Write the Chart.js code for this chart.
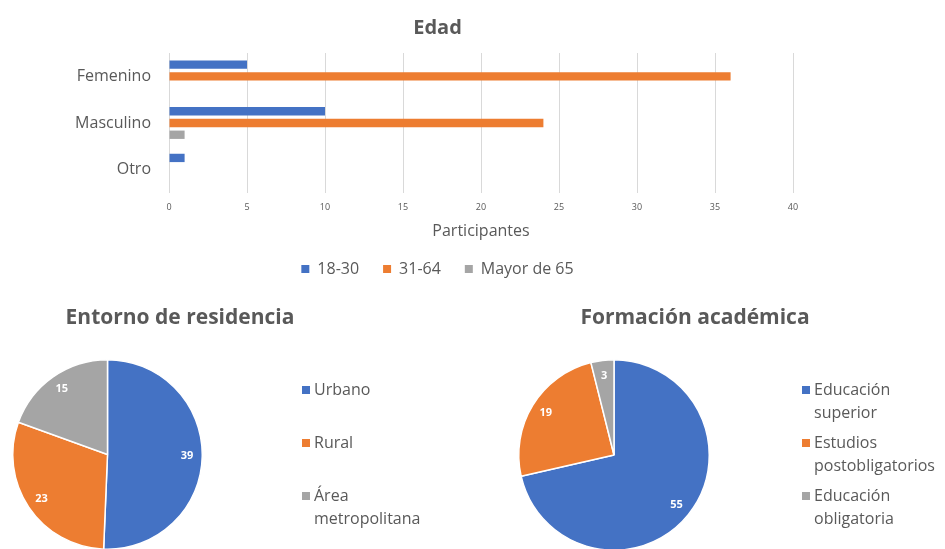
<!DOCTYPE html>
<html lang="es">
<head>
<meta charset="UTF-8">
<title>Participantes</title>
<script src="https://cdn.jsdelivr.net/npm/chart.js@4.4.1/dist/chart.umd.min.js"></script>
<style>
  html, body { margin: 0; padding: 0; background: #fff; overflow: hidden; }
  body { width: 945px; height: 549px; position: relative; }
  canvas { position: absolute; }
  #edadChart { left: 0; top: 0; }
  #entornoChart { left: 0; top: 290px; }
  #formacionChart { left: 470px; top: 290px; }
</style>
</head>
<body>
<canvas id="edadChart" width="875" height="287"></canvas>
<canvas id="entornoChart" width="470" height="270"></canvas>
<canvas id="formacionChart" width="475" height="270"></canvas>
<script>
// Datos del gráfico de edad
const categoriasGenero = ['Femenino', 'Masculino', 'Otro'];
const gruposEdad = ['18-30', '31-64', 'Mayor de 65'];
const edad18a30 = [5, 10, 1];
const edad31a64 = [36, 24, 0];
const edadMayor65 = [0, 1, 0];
const ticksParticipantes = [0, 5, 10, 15, 20, 25, 30, 35, 40];

// Datos de los gráficos de sectores
const entornoEtiquetas = ['Urbano', 'Rural', 'Área metropolitana'];
const entornoValores = [39, 23, 15];
const formacionEtiquetas = ['Educación superior', 'Estudios postobligatorios', 'Educación obligatoria'];
const formacionValores = [55, 19, 3];

const colores = ['#4472C4', '#ED7D31', '#A5A5A5'];
const grisTexto = '#595959';

Chart.defaults.font.family = '"Open Sans", sans-serif';
Chart.defaults.color = grisTexto;

// Parte un texto en líneas que no pasen de anchoMax
function partirTexto(ctx, texto, anchoMax) {
    const palabras = texto.split(' ');
    const lineas = [];
    let actual = '';
    palabras.forEach(function(p) {
        const prueba = actual ? actual + ' ' + p : p;
        if (actual && ctx.measureText(prueba).width > anchoMax) {
            lineas.push(actual);
            actual = p;
        } else {
            actual = prueba;
        }
    });
    if (actual) lineas.push(actual);
    return lineas;
}

// Plugin para escribir el valor dentro de cada sector
const valoresSectores = {
    id: 'valoresSectores',
    afterDatasetsDraw(chart) {
        const ctx = chart.ctx;
        const meta = chart.getDatasetMeta(0);
        const datos = chart.data.datasets[0].data;
        ctx.save();
        ctx.font = 'bold 11px "Open Sans", sans-serif';
        ctx.fillStyle = '#ffffff';
        ctx.textAlign = 'center';
        ctx.textBaseline = 'middle';
        meta.data.forEach(function(arco, i) {
            const p = arco.getProps(['x', 'y', 'startAngle', 'endAngle', 'outerRadius'], true);
            const medio = (p.startAngle + p.endAngle) / 2;
            const r = p.outerRadius * 0.84;
            ctx.fillText(datos[i], p.x + Math.cos(medio) * r, p.y + Math.sin(medio) * r);
        });
        ctx.restore();
    }
};

// Plugin para el título y la leyenda lateral (con etiquetas en varias líneas)
const tituloYLeyenda = {
    id: 'tituloYLeyenda',
    afterDraw(chart, args, opts) {
        const ctx = chart.ctx;
        ctx.save();
        ctx.fillStyle = grisTexto;
        ctx.font = 'bold 21px "Open Sans", sans-serif';
        ctx.textAlign = 'center';
        ctx.textBaseline = 'middle';
        ctx.fillText(opts.titulo, opts.tituloX, opts.tituloY);

        ctx.font = '16px "Open Sans", sans-serif';
        ctx.textAlign = 'left';
        const fondos = chart.data.datasets[0].backgroundColor;
        chart.data.labels.forEach(function(etiqueta, i) {
            const lineas = partirTexto(ctx, etiqueta, opts.anchoMax);
            const y = opts.y + i * opts.paso;
            ctx.fillStyle = fondos[i];
            ctx.fillRect(opts.textoX - 12, y - 4, 8, 8);
            ctx.fillStyle = grisTexto;
            lineas.forEach(function(linea, j) {
                ctx.fillText(linea, opts.textoX, y + j * opts.alturaLinea);
            });
        });
        ctx.restore();
    }
};

// Gráfico de barras horizontales: Edad
function crearGraficoEdad() {
    const ctx = document.getElementById('edadChart').getContext('2d');
    const series = [edad18a30, edad31a64, edadMayor65];

    new Chart(ctx, {
        type: 'bar',
        data: {
            labels: categoriasGenero,
            datasets: gruposEdad.map(function(grupo, i) {
                return {
                    label: grupo,
                    data: series[i],
                    backgroundColor: colores[i],
                    categoryPercentage: 0.755,
                    barPercentage: 0.71
                };
            })
        },
        options: {
            indexAxis: 'y',
            responsive: false,
            animation: false,
            devicePixelRatio: 1,
            layout: { padding: 0 },
            scales: {
                x: {
                    min: ticksParticipantes[0],
                    max: ticksParticipantes[ticksParticipantes.length - 1],
                    afterBuildTicks: function(scale) {
                        scale.ticks = ticksParticipantes.map(function(v) { return { value: v }; });
                    },
                    grid: { color: '#d9d9d9', drawTicks: false },
                    border: { display: false },
                    ticks: { font: { size: 9 }, padding: 9, color: grisTexto, maxRotation: 0 },
                    title: {
                        display: true,
                        text: 'Participantes',
                        font: { size: 16 },
                        padding: { top: 0, bottom: -4 }
                    }
                },
                y: {
                    grid: { display: false },
                    border: { display: false },
                    ticks: { font: { size: 16 }, padding: 10, color: grisTexto },
                    afterFit: function(scale) { scale.width = 169; }
                },
                // eje vacío a la derecha: deja el hueco del original sin descentrar título y leyenda
                derecha: {
                    type: 'category',
                    axis: 'y',
                    position: 'right',
                    grid: { display: false },
                    border: { display: false },
                    ticks: { display: false },
                    afterFit: function(scale) { scale.width = 82; }
                }
            },
            plugins: {
                title: {
                    display: true,
                    text: 'Edad',
                    font: { size: 20, weight: 'bold' },
                    color: grisTexto,
                    padding: { top: 16, bottom: 13 }
                },
                legend: {
                    position: 'bottom',
                    labels: { boxWidth: 8, boxHeight: 8, font: { size: 16 }, padding: 24, color: grisTexto }
                },
                tooltip: { enabled: false }
            }
        }
    });
}

// Gráfico de sectores con título y leyenda a la derecha
function crearSectores(id, etiquetas, valores, relleno, opcionesLeyenda) {
    const ctx = document.getElementById(id).getContext('2d');

    new Chart(ctx, {
        type: 'pie',
        data: {
            labels: etiquetas,
            datasets: [{
                data: valores,
                backgroundColor: colores,
                borderColor: '#ffffff',
                borderWidth: 1.5
            }]
        },
        options: {
            responsive: false,
            animation: false,
            devicePixelRatio: 1,
            layout: { padding: relleno },
            plugins: {
                legend: { display: false },
                tooltip: { enabled: false },
                tituloYLeyenda: opcionesLeyenda
            }
        },
        plugins: [valoresSectores, tituloYLeyenda]
    });
}

document.addEventListener('DOMContentLoaded', function() {
    crearGraficoEdad();

    crearSectores('entornoChart', entornoEtiquetas, entornoValores,
        { left: 12, right: 267, top: 69, bottom: 10 },
        { titulo: 'Entorno de residencia', tituloX: 180, tituloY: 28,
          textoX: 314, y: 100, paso: 53, alturaLinea: 23, anchoMax: 100 });

    crearSectores('formacionChart', formacionEtiquetas, formacionValores,
        { left: 48, right: 235, top: 69, bottom: 9 },
        { titulo: 'Formación académica', tituloX: 225, tituloY: 28,
          textoX: 344, y: 100, paso: 53, alturaLinea: 23, anchoMax: 100 });
});
</script>
</body>
</html>
